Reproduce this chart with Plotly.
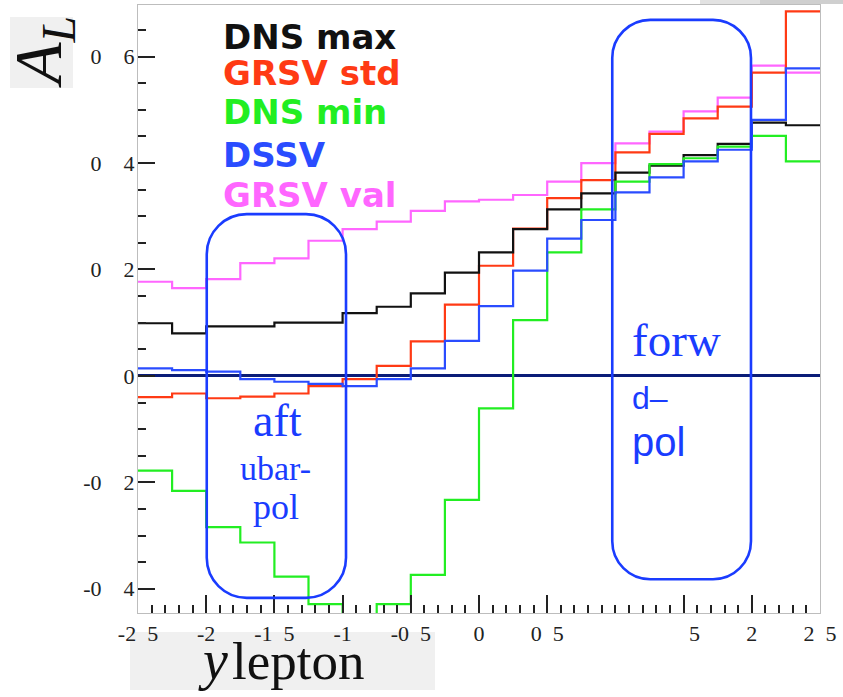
import plotly.graph_objects as go

# ---------------- data ----------------
bin_edges = [-2.5, -2.25, -2.0, -1.75, -1.5, -1.25, -1.0, -0.75, -0.5, -0.25, 0.0,
             0.25, 0.5, 0.75, 1.0, 1.25, 1.5, 1.75, 2.0, 2.25, 2.5]

dns_max = [0.099, 0.080, 0.093, 0.093, 0.100, 0.100, 0.118, 0.130, 0.155, 0.194,
           0.232, 0.276, 0.313, 0.343, 0.382, 0.395, 0.415, 0.436, 0.476, 0.471]
grsv_std = [-0.040, -0.033, -0.042, -0.039, -0.033, -0.019, -0.006, 0.019, 0.065, 0.134,
            0.207, 0.277, 0.334, 0.368, 0.420, 0.455, 0.484, 0.506, 0.570, 0.685]
dns_min = [-0.178, -0.216, -0.284, -0.313, -0.377, -0.429, -0.470, -0.429, -0.374, -0.233,
           -0.061, 0.105, 0.232, 0.313, 0.365, 0.398, 0.409, 0.431, 0.451, 0.403]
dssv = [0.014, 0.011, 0.008, -0.006, -0.011, -0.015, -0.019, -0.006, 0.014, 0.066,
        0.131, 0.198, 0.258, 0.293, 0.345, 0.373, 0.403, 0.425, 0.481, 0.578]
grsv_val = [0.177, 0.165, 0.182, 0.212, 0.221, 0.254, 0.276, 0.290, 0.310, 0.328,
            0.331, 0.340, 0.365, 0.400, 0.437, 0.459, 0.497, 0.523, 0.583, 0.570]

series_names = ["DNS max", "GRSV std", "DNS min", "DSSV", "GRSV val"]

x_tickvals = [-2.5, -2.0, -1.5, -1.0, -0.5, 0.0, 0.5, 1.0, 1.5, 2.0, 2.5]
x_ticktext = ["-2\u20025", "-2", "-1\u20025", "-1", "-0\u20025", "0", "0\u20025", "",
              "\u2002\u20025", "2", "2\u20025"]
y_tickvals = [-0.4, -0.2, 0.0, 0.2, 0.4, 0.6]
y_ticktext = ["-0\u20034", "-0\u20032", "0", "0\u20032", "0\u20034", "0\u20036"]

# ---------------- layout helpers ----------------
W, H = 843, 697
L, R, T, B = 138, 820, 5, 613   # plot area in pixels


def px(xp):
    return (xp - L) / (R - L)


def py(yp):
    return (B - yp) / (B - T)


colors = ["#111111", "#ff3a14", "#22ee22", "#2a4cff", "#ff66ff"]
series = [dns_max, grsv_std, dns_min, dssv, grsv_val]

fig = go.Figure()
draw_order = [4, 1, 0, 2, 3]
for i in draw_order:
    vals = series[i]
    fig.add_trace(go.Scatter(
        x=bin_edges, y=list(vals) + [vals[-1]],
        mode="lines", line=dict(color=colors[i], width=2.2, shape="hv"),
        name=series_names[i], showlegend=False, hoverinfo="skip"))

# ---------------- rounded boxes (data coords) ----------------
XS, YS = (R - L) / 5.0, 532.0  # px per data unit


def rounded_path(x0, x1, y0, y1, r_px):
    rx, ry = r_px / XS, r_px / YS
    k = 0.5523
    p = [f"M {x0 + rx},{y1}", f"L {x1 - rx},{y1}",
         f"C {x1 - rx + k * rx},{y1} {x1},{y1 - ry + k * ry} {x1},{y1 - ry}",
         f"L {x1},{y0 + ry}",
         f"C {x1},{y0 + ry - k * ry} {x1 - rx + k * rx},{y0} {x1 - rx},{y0}",
         f"L {x0 + rx},{y0}",
         f"C {x0 + rx - k * rx},{y0} {x0},{y0 + ry - k * ry} {x0},{y0 + ry}",
         f"L {x0},{y1 - ry}",
         f"C {x0},{y1 - ry + k * ry} {x0 + rx - k * rx},{y1} {x0 + rx},{y1}", "Z"]
    return " ".join(p)


box_color = "#1a3cff"
shapes = [
    dict(type="path", xref="x", yref="y", path=rounded_path(-1.996, -0.975, -0.417, 0.304, 40),
         line=dict(color=box_color, width=2.6)),
    dict(type="path", xref="x", yref="y", path=rounded_path(0.977, 1.994, -0.382, 0.669, 38),
         line=dict(color=box_color, width=2.6)),
    # grey title boxes
    dict(type="rect", xref="paper", yref="paper", x0=px(10), x1=px(73), y0=py(88), y1=py(17),
         fillcolor="#f0f0f0", line=dict(width=0), layer="below"),
    dict(type="rect", xref="paper", yref="paper", x0=px(130), x1=px(435), y0=py(690), y1=py(632),
         fillcolor="#f0f0f0", line=dict(width=0), layer="below"),
    # top-right shadow
    dict(type="rect", xref="paper", yref="paper", x0=px(700), x1=px(843), y0=py(4), y1=py(0),
         fillcolor="#e2e2e2", line=dict(width=0)),
    dict(type="rect", xref="paper", yref="paper", x0=px(760), x1=px(843), y0=py(4), y1=py(0),
         fillcolor="#cfcfcf", line=dict(width=0)),
]

annotations = []
legend_y = [37.5, 73, 112, 154.5, 194.5]
for i, name in enumerate(series_names):
    annotations.append(dict(xref="paper", yref="paper", x=px(221), y=py(legend_y[i]),
                            xanchor="left", yanchor="middle", showarrow=False, text=name,
                            font=dict(family="DejaVu Sans", size=34, color=colors[i], weight="bold")))

txt_blue = "#1a3cff"
serif = "Liberation Serif"
sans = "Liberation Sans"
annotations += [
    dict(xref="paper", yref="paper", x=px(277), y=py(420), text="aft", showarrow=False,
         xanchor="center", yanchor="middle", font=dict(family=serif, size=46, color=txt_blue)),
    dict(xref="paper", yref="paper", x=px(275), y=py(468), text="ubar-", showarrow=False,
         xanchor="center", yanchor="middle", font=dict(family=serif, size=34, color=txt_blue)),
    dict(xref="paper", yref="paper", x=px(276), y=py(507), text="pol", showarrow=False,
         xanchor="center", yanchor="middle", font=dict(family=serif, size=36, color=txt_blue)),
    dict(xref="paper", yref="paper", x=px(630), y=py(340), text="forw", showarrow=False,
         xanchor="left", yanchor="middle", font=dict(family=serif, size=47, color=txt_blue)),
    dict(xref="paper", yref="paper", x=px(630), y=py(398), text="d\u2013", showarrow=False,
         xanchor="left", yanchor="middle", font=dict(family=sans, size=32, color=txt_blue)),
    dict(xref="paper", yref="paper", x=px(630), y=py(442), text="pol", showarrow=False,
         xanchor="left", yanchor="middle", font=dict(family=sans, size=40, color=txt_blue)),
    # axis titles
    dict(xref="paper", yref="paper", x=px(43), y=py(52), text="<i>A</i><sub><i>L</i></sub>",
         showarrow=False, textangle=-90, xanchor="center", yanchor="middle",
         font=dict(family=serif, size=68, color="#111111")),
    dict(xref="paper", yref="paper", x=px(213), y=py(660), text="<i>y</i>", showarrow=False,
         xanchor="center", yanchor="middle", font=dict(family=serif, size=56, color="#111111")),
    dict(xref="paper", yref="paper", x=px(230), y=py(661), text="lepton", showarrow=False,
         xanchor="left", yanchor="middle", font=dict(family=serif, size=53, color="#111111")),
]

fig.update_layout(
    width=W, height=H,
    margin=dict(l=L, r=W - R, t=T, b=H - B, pad=0, autoexpand=False),
    plot_bgcolor="white", paper_bgcolor="white",
    shapes=shapes, annotations=annotations, showlegend=False,
)
fig.update_xaxes(
    range=[-2.5, 2.5], tickmode="array", tickvals=x_tickvals, ticktext=x_ticktext,
    ticks="inside", ticklen=18, tickwidth=2, tickcolor="#222222",
    minor=dict(tickvals=[round(-2.5 + 0.1 * i, 2) for i in range(51)], ticks="inside",
               ticklen=8, tickwidth=2, tickcolor="#222222"),
    showgrid=False, zeroline=False, showline=True, linecolor="#bdbdbd", linewidth=1, mirror=True,
    tickfont=dict(family=serif, size=22, color="#222222"), ticklabelstandoff=1,
    automargin=False,
)
fig.update_yaxes(
    range=[-0.4455, 0.697], tickmode="array", tickvals=y_tickvals, ticktext=y_ticktext,
    ticks="inside", ticklen=17, tickwidth=2, tickcolor="#222222",
    minor=dict(tickvals=[round(-0.45 + 0.05 * i, 2) for i in range(24)], ticks="inside",
               ticklen=8, tickwidth=2, tickcolor="#222222"),
    showgrid=False, zeroline=True, zerolinecolor="#0a1c78", zerolinewidth=2.5,
    showline=True, linecolor="#bdbdbd", linewidth=1, mirror=True,
    tickfont=dict(family=serif, size=22, color="#222222"), ticklabelstandoff=-2,
    automargin=False,
)

fig.write_html("out.html", config={"displayModeBar": False},
               post_script="document.body.style.margin='0';")
